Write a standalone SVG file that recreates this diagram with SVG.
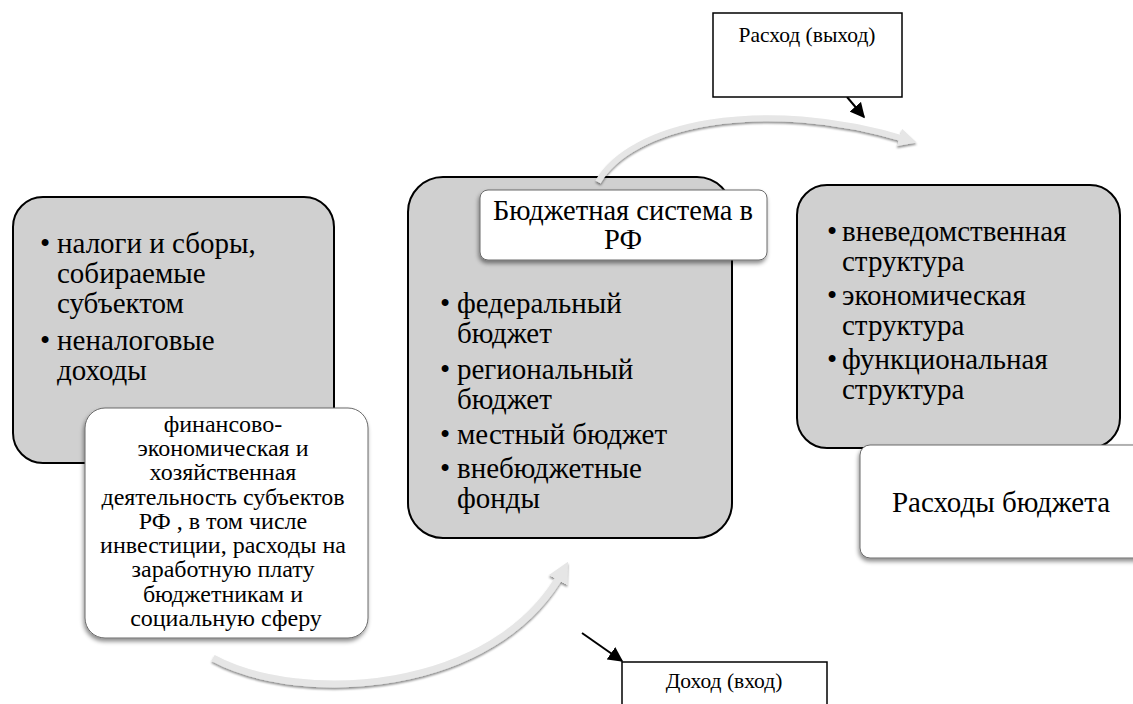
<svg xmlns="http://www.w3.org/2000/svg" width="1133" height="704" viewBox="0 0 1133 704">
<defs>
<style>
.gray{fill:#d0d0d0;stroke:#000;stroke-width:2}
.white{fill:#fff;stroke:#6a6a6a;stroke-width:1}
.label{fill:#fff;stroke:#000;stroke-width:1.5}
.t{font-family:"Liberation Serif","Times New Roman",serif;fill:#000}
.big{font-size:29px}
.mid{font-size:24px}
.title{font-size:28.5px}
.small{font-size:21.5px}
.curve{fill:none;stroke:#e6e6e6;stroke-width:6;stroke-linecap:butt}
.blk{stroke:#000;stroke-width:2;fill:none}
</style>
<filter id="sh" x="-10%" y="-10%" width="125%" height="130%">
<feDropShadow dx="-1" dy="3" stdDeviation="2" flood-color="#000" flood-opacity="0.45"/>
</filter>
<filter id="csh" x="-10%" y="-30%" width="120%" height="160%">
<feDropShadow dx="0" dy="2" stdDeviation="1.2" flood-color="#000" flood-opacity="0.45"/>
</filter>
<marker id="ah2" viewBox="0 0 10 10" refX="9" refY="5" markerWidth="15" markerHeight="15" markerUnits="userSpaceOnUse" orient="auto">
<path d="M0,0 L10,5 L0,10 z" fill="#000"/>
</marker>
<marker id="gh" viewBox="0 0 10 10" refX="5" refY="5" markerWidth="3" markerHeight="3" orient="auto">
<path d="M0,0 L10,5 L0,10 z" fill="#e6e6e6"/>
</marker>
</defs>
<rect width="1133" height="704" fill="#fff"/>

<g id="income-sources">
<rect class="gray" x="13" y="197" width="321" height="266" rx="30"/>
<text class="t big"><tspan x="40" y="253">•</tspan><tspan x="57" y="253">налоги и сборы,</tspan></text>
<text class="t big" x="57" y="283">собираемые</text>
<text class="t big" x="57" y="313">субъектом</text>
<text class="t big"><tspan x="40" y="350">•</tspan><tspan x="57" y="350">неналоговые</tspan></text>
<text class="t big" x="57" y="380">доходы</text>
</g>

<g id="budget-system">
<rect class="gray" x="408" y="177" width="324" height="361" rx="35"/>
<text class="t big"><tspan x="440" y="313">•</tspan><tspan x="457" y="313">федеральный</tspan></text>
<text class="t big" x="457" y="343">бюджет</text>
<text class="t big"><tspan x="440" y="379">•</tspan><tspan x="457" y="379">региональный</tspan></text>
<text class="t big" x="457" y="409">бюджет</text>
<text class="t big"><tspan x="440" y="444">•</tspan><tspan x="457" y="444">местный бюджет</tspan></text>
<text class="t big"><tspan x="440" y="478">•</tspan><tspan x="457" y="478">внебюджетные</tspan></text>
<text class="t big" x="457" y="508">фонды</text>
</g>

<g id="expense-structure">
<rect class="gray" x="797" y="185" width="323" height="263" rx="30"/>
<text class="t big"><tspan x="827" y="241">•</tspan><tspan x="842" y="241">вневедомственная</tspan></text>
<text class="t big" x="842" y="271">структура</text>
<text class="t big"><tspan x="827" y="305">•</tspan><tspan x="842" y="305">экономическая</tspan></text>
<text class="t big" x="842" y="335">структура</text>
<text class="t big"><tspan x="827" y="369">•</tspan><tspan x="842" y="369">функциональная</tspan></text>
<text class="t big" x="842" y="399">структура</text>
</g>

<g id="connectors">
<path class="curve" filter="url(#csh)" d="M598,182 C630,125 760,95 908,140" marker-end="url(#gh)"/>
<path class="curve" filter="url(#csh)" d="M213,658 C300,705 495,695 563,571" marker-end="url(#gh)" style="stroke-width:7"/>
<line class="blk" x1="847" y1="97" x2="864" y2="117" marker-end="url(#ah2)"/>
<line class="blk" x1="582" y1="633" x2="622" y2="661" marker-end="url(#ah2)"/>
</g>

<g id="activity">
<rect class="white" filter="url(#sh)" x="85" y="408" width="283" height="230" rx="20"/>
<text class="t mid" text-anchor="middle">
<tspan x="226" y="432">финансово-</tspan>
<tspan x="226" y="456">экономическая и</tspan>
<tspan x="226" y="480">хозяйственная</tspan>
<tspan x="226" y="505">деятельность субъектов</tspan>
<tspan x="226" y="529">РФ , в том числе</tspan>
<tspan x="226" y="553">инвестиции, расходы на</tspan>
<tspan x="226" y="577">заработную плату</tspan>
<tspan x="226" y="602">бюджетникам  и</tspan>
<tspan x="226" y="626">социальную сферу</tspan>
</text>
</g>

<g id="budget-system-title">
<rect class="white" filter="url(#sh)" x="480" y="190" width="287" height="70" rx="8"/>
<text class="t title" text-anchor="middle"><tspan x="623" y="220">Бюджетная система в</tspan><tspan x="623" y="249">РФ</tspan></text>
</g>

<g id="budget-expenses">
<rect class="white" filter="url(#sh)" x="860" y="445" width="290" height="113" rx="10"/>
<text class="t big" x="1001" y="512" text-anchor="middle">Расходы бюджета</text>
</g>

<g id="expense-output">
<rect class="label" x="713" y="13" width="189" height="84"/>
<text class="t small" x="807" y="42" text-anchor="middle">Расход (выход)</text>
</g>

<g id="income-input">
<rect class="label" x="622" y="662" width="205" height="60"/>
<text class="t small" x="724" y="688" text-anchor="middle">Доход (вход)</text>
</g>
</svg>
